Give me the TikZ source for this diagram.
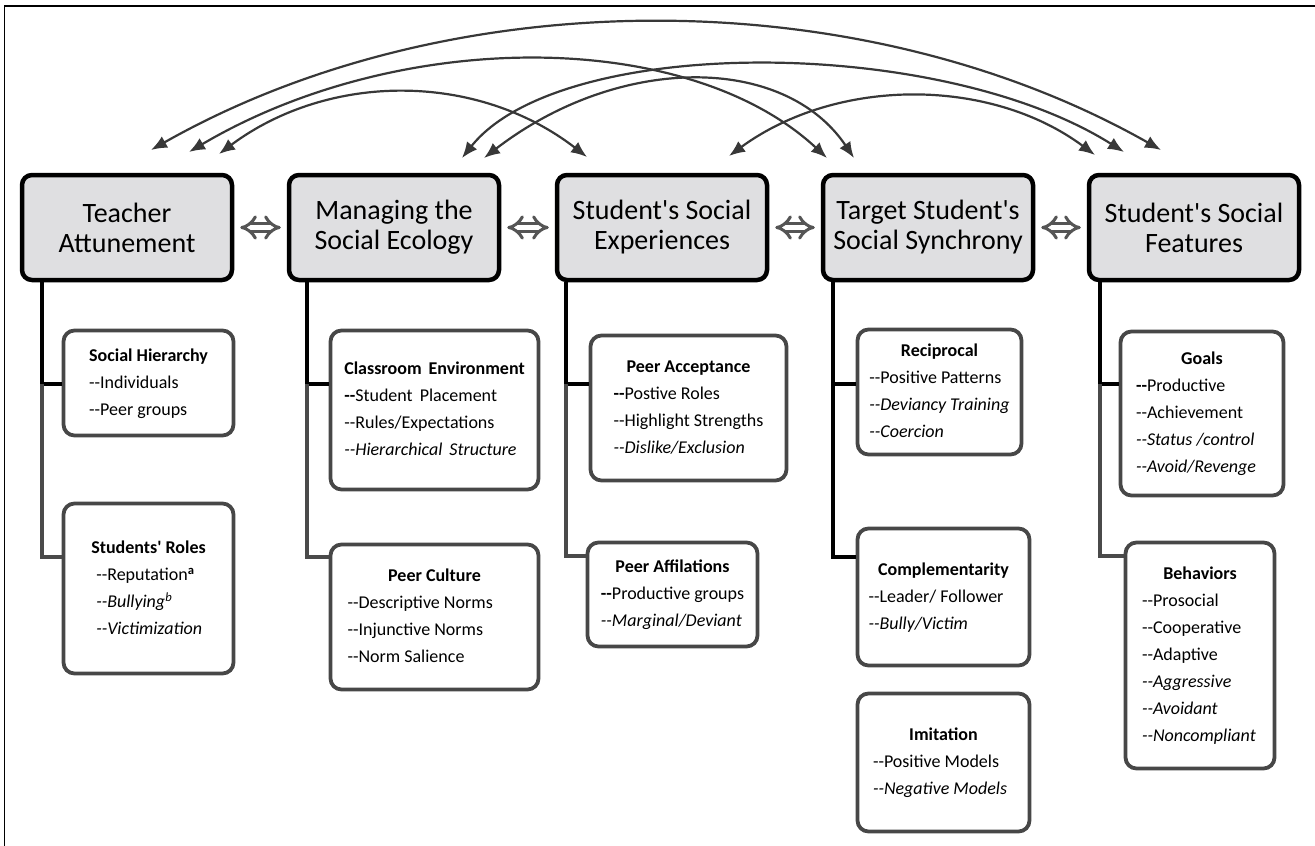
\documentclass[tikz,border=0pt]{standalone}
\usepackage{fontspec}
\setmainfont{Carlito}[Ligatures=TeXOff]
\usetikzlibrary{arrows.meta}
\definecolor{hdrfill}{HTML}{DFDFE1}
\definecolor{subline}{HTML}{474747}
\definecolor{arcline}{HTML}{383838}
\definecolor{dblline}{HTML}{555555}
\definecolor{trunkgray}{HTML}{4A4A4A}
\newcommand\ttl[1]{\multicolumn{1}{@{}c@{}}{\textbf{#1}}}
\newcommand\wsp{\hspace{7pt}}
\begin{document}
\begin{tikzpicture}[x=1pt,y=-1pt,
  hdr/.style={draw=black, line width=4.5pt, rounded corners=10pt, fill=hdrfill,
    minimum width=210pt, minimum height=105pt, inner sep=0pt, align=center,
    font=\fontsize{28}{30}\selectfont},
  subbox/.style={draw=subline, line width=3.8pt, rounded corners=11pt, fill=white,
    inner sep=0pt, font=\fontsize{18}{27}\selectfont},
  arc/.style={draw=arcline, line width=2.2pt,
    {Latex[length=16pt,width=13pt]}-{Latex[length=16pt,width=13pt]}},
  dbl/.style={draw=dblline, line width=3pt, double=white, double distance=5pt,
    {Implies[length=9pt,width=22pt]}-{Implies[length=9pt,width=22pt]},
    shorten <=6pt, shorten >=6pt},
  trunkb/.style={draw=black, line width=4.5pt},
  trunkg/.style={draw=trunkgray, line width=4.5pt},
  frame/.style={draw=black, line width=1.5pt}
]
\useasboundingbox (0,0) rectangle (1315,846);
% frame (left and top edges)
\coordinate (fa) at (4.5,846);
\coordinate (fb) at (4.5,6);
\coordinate (fc) at (1315,6);
\draw[frame] (fa) -- (fb) -- (fc);

% header boxes
\node[hdr] (teacher)  at (127,227.5)  {Teacher\\Attunement};
\node[hdr] (managing) at (394,227.5)  {Managing the\\Social Ecology};
\node[hdr] (exper)    at (662,227.5)  {Student's Social\\Experiences};
\node[hdr] (target)   at (928,227.5)  {Target Student's\\Social Synchrony};
\node[hdr] (features) at (1194,227.5) {Student's Social\\Features};

\draw[dbl] (teacher.east) -- (managing.west);
\draw[dbl] (managing.east) -- (exper.west);
\draw[dbl] (exper.east) -- (target.west);
\draw[dbl] (target.east) -- (features.west);

% sub boxes
\node[subbox, minimum width=170pt, minimum height=105pt] (sh) at (148.5,383) {%
  \begin{tabular}{@{}l@{}}\ttl{Social Hierarchy}\\--Individuals\\--Peer groups\end{tabular}};
\node[subbox, minimum width=170pt, minimum height=170pt] (sr) at (148.5,588.5) {%
  \begin{tabular}{@{}l@{}}\ttl{Students' Roles}\\\hspace*{5pt}--Reputation\textsuperscript{\textbf{a}}\\\hspace*{5pt}\textit{--Bullying\textsuperscript{b}}\\\hspace*{5pt}\textit{--Victimization}\end{tabular}};
\node[subbox, minimum width=208pt, minimum height=159pt] (ce) at (434.5,410) {%
  \begin{tabular}{@{}l@{}}\ttl{Classroom\wsp Environment}\\\textbf{--}Student\wsp Placement\\--Rules/Expectations\\\textit{--Hierarchical\wsp Structure}\end{tabular}};
\node[subbox, minimum width=208pt, minimum height=145pt] (pc) at (434.5,617) {%
  \begin{tabular}{@{}p{174pt}@{}}\ttl{Peer Culture}\\--Descriptive Norms\\--Injunctive Norms\\--Norm Salience\end{tabular}};
\node[subbox, minimum width=196pt, minimum height=145pt] (pa) at (688.5,408) {%
  \begin{tabular}{@{}l@{}}\ttl{Peer Acceptance}\\\textbf{--}Postive Roles\\--Highlight Strengths\\\textit{--Dislike/Exclusion}\end{tabular}};
\node[subbox, minimum width=170pt, minimum height=104pt] (paf) at (672.5,594.5) {%
  \begin{tabular}{@{}l@{}}\ttl{Peer Affilations}\\\textbf{--}Productive groups\\\textit{--Marginal/Deviant}\end{tabular}};
\node[subbox, minimum width=164pt, minimum height=125pt] (rc) at (939.5,392) {%
  \begin{tabular}{@{}l@{}}\ttl{Reciprocal}\\--Positive Patterns\\\textit{--Deviancy Training}\\\textit{--Coercion}\end{tabular}};
\node[subbox, minimum width=172pt, minimum height=137pt] (cm) at (943.5,597) {%
  \begin{tabular}{@{}p{150pt}@{}}\ttl{Complementarity}\\--Leader/ Follower\\\textit{--Bully/Victim}\end{tabular}};
\node[subbox, minimum width=172pt, minimum height=138pt] (im) at (943.5,762.5) {%
  \begin{tabular}{@{}p{141pt}@{}}\ttl{Imitation}\\--Positive Models\\\textit{--Negative Models}\end{tabular}};
\node[subbox, minimum width=163pt, minimum height=164pt] (gl) at (1202,413.5) {%
  \begin{tabular}{@{}p{132pt}@{}}\ttl{Goals}\\\textbf{--}Productive\\--Achievement\\\textit{--Status /control}\\\textit{--Avoid/Revenge}\end{tabular}};
\node[subbox, minimum width=149pt, minimum height=226pt] (bh) at (1200,655.5) {%
  \begin{tabular}{@{}p{116pt}@{}}\ttl{Behaviors}\\--Prosocial\\--Cooperative\\--Adaptive\\\textit{--Aggressive}\\\textit{--Avoidant}\\\textit{--Noncompliant}\end{tabular}};

% trunks and branches
\coordinate (k1a) at (42,384);  \coordinate (k1b) at (42,557);
\coordinate (k2a) at (307,384); \coordinate (k2b) at (307,557);
\coordinate (k3a) at (566,384); \coordinate (k3b) at (566,556);
\coordinate (k4a) at (833,384); \coordinate (k4b) at (833,557);
\coordinate (k5a) at (1100,384);\coordinate (k5b) at (1100,556);
\draw[trunkb] (teacher.south -| k1a) -- (k1a) -- (k1a -| sh.west);
\draw[trunkg] (k1a) -- (k1b) -- (k1b -| sr.west);
\draw[trunkb] (managing.south -| k2a) -- (k2a) -- (k2a -| ce.west);
\draw[trunkg] (k2a) -- (k2b) -- (k2b -| pc.west);
\draw[trunkb] (exper.south -| k3a) -- (k3a) -- (k3a -| pa.west);
\draw[trunkg] (k3a) -- (k3b) -- (k3b -| paf.west);
\draw[trunkb] (target.south -| k4a) -- (k4a) -- (k4a -| rc.west);
\draw[trunkb] (k4a) -- (k4b) -- (k4b -| cm.west);
\draw[trunkb] (features.south -| k5a) -- (k5a) -- (k5a -| gl.west);
\draw[trunkg] (k5a) -- (k5b) -- (k5b -| bh.west);

% arc end points
\coordinate (t1) at (151,150); \coordinate (t2) at (189,152); \coordinate (t3) at (219,154);
\coordinate (m1) at (462,158); \coordinate (m2) at (484,158);
\coordinate (s1) at (587,157); \coordinate (s2) at (729,156);
\coordinate (g1) at (827,158); \coordinate (g2) at (854,158);
\coordinate (f1) at (1095,155); \coordinate (f2) at (1124,152); \coordinate (f3) at (1161,150);

\draw[arc] (t1) .. controls (451,-20) and (861,-20) .. (f3);
\draw[arc] (t2) .. controls (399,28) and (687,28) .. (g1);
\draw[arc] (t3) .. controls (329,72) and (477,72) .. (s1);
\draw[arc] (m2) .. controls (619,54) and (784,54) .. (g2);
\draw[arc] (m1) .. controls (560,35) and (938,35) .. (f2);
\draw[arc] (s2) .. controls (837,77) and (990,77) .. (f1);
\end{tikzpicture}
\end{document}
